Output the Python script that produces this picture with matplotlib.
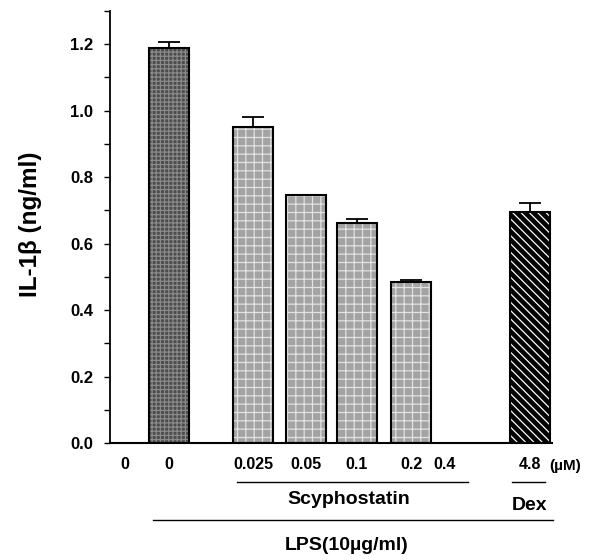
import numpy as np
import matplotlib
matplotlib.use('Agg')
import matplotlib.pyplot as plt
from matplotlib.ticker import MultipleLocator, FormatStrFormatter

plt.rcParams['font.family'] = ['Liberation Sans', 'DejaVu Sans']
plt.rcParams['font.weight'] = 'bold'
plt.rcParams['hatch.linewidth'] = 0.9

# data
labels = ['0', '0', '0.025', '0.05', '0.1', '0.2', '0.4', '4.8']
values = [0.0, 1.188, 0.95, 0.745, 0.663, 0.485, 0.0, 0.696]
errors = [0.0, 0.018, 0.032, 0.0, 0.011, 0.006, 0.0, 0.027]
groups = ['none', 'lps', 'scy', 'scy', 'scy', 'scy', 'scy', 'dex']

# layout (x positions in axis units, not data)
xpos = [0.29, 1.13, 2.75, 3.77, 4.75, 5.79, 6.44, 8.08]
width = 0.77

styles = {
    'none': dict(fc='white', hc='white', hatch=None),
    'lps': dict(fc='#4c4c4c', hc='#8a8a8a', hatch='++++'),
    'scy': dict(fc='#a3a3a3', hc='#e2e2e2', hatch='++'),
    'dex': dict(fc='black', hc='white', hatch='\\\\\\\\'),
}

fig = plt.figure(figsize=(5.9, 5.6), dpi=100)
ax = fig.add_axes([110 / 590, 117 / 560, 442 / 590, 432 / 560])

for x, v, e, g in zip(xpos, values, errors, groups):
    if v <= 0:
        continue
    s = styles[g]
    ax.bar(x, v, width, color=s['fc'], edgecolor=s['hc'], hatch=s['hatch'], linewidth=0)
    ax.bar(x, v, width, fill=False, edgecolor='black', linewidth=1.5)
    if e > 0:
        ax.errorbar(x, v, yerr=[[0], [e]], fmt='none', ecolor='black',
                    elinewidth=1.3, capsize=8, capthick=1.3)

ax.set_xlim(0, 8.5)
ax.set_ylim(0, 1.3)
ax.spines['top'].set_visible(False)
ax.spines['right'].set_visible(False)
ax.spines['left'].set_linewidth(1.3)
ax.spines['bottom'].set_linewidth(1.5)
ax.yaxis.set_major_locator(MultipleLocator(0.2))
ax.yaxis.set_minor_locator(MultipleLocator(0.1))
ax.yaxis.set_major_formatter(FormatStrFormatter('%.1f'))
ax.tick_params(axis='y', which='both', direction='out', length=4, width=1, labelsize=12, pad=8)
ax.set_xticks(xpos)
ax.set_xticklabels(labels, fontsize=11.5, fontweight='bold')
ax.tick_params(axis='x', length=0, pad=10)
for t in ax.get_yticklabels():
    t.set_fontweight('bold')

# annotations outside the axes (figure pixel coordinates)
def px(x, y):
    return (x / 590, 1 - y / 560)

fig.text(*px(30, 224), 'IL-1\u03b2 (ng/ml)', fontsize=17.5, fontweight='bold',
         rotation=90, ha='center', va='center')
fig.text(*px(565, 466), '(\u00b5M)', fontsize=11, fontweight='bold', ha='center', va='center')
fig.add_artist(plt.Line2D([237 / 590, 468 / 590], [1 - 482 / 560] * 2, color='black', lw=1))
fig.text(*px(349, 499), 'Scyphostatin', fontsize=14, fontweight='bold', ha='center', va='center')
fig.add_artist(plt.Line2D([512 / 590, 545 / 590], [1 - 482 / 560] * 2, color='black', lw=1))
fig.text(*px(530, 506), 'Dex', fontsize=14, fontweight='bold', ha='center', va='center')
fig.add_artist(plt.Line2D([153 / 590, 553 / 590], [1 - 520 / 560] * 2, color='black', lw=1))
fig.text(*px(347, 545), 'LPS(10\u00b5g/ml)', fontsize=14, fontweight='bold', ha='center', va='center')

fig.savefig('out.png', dpi=100)
